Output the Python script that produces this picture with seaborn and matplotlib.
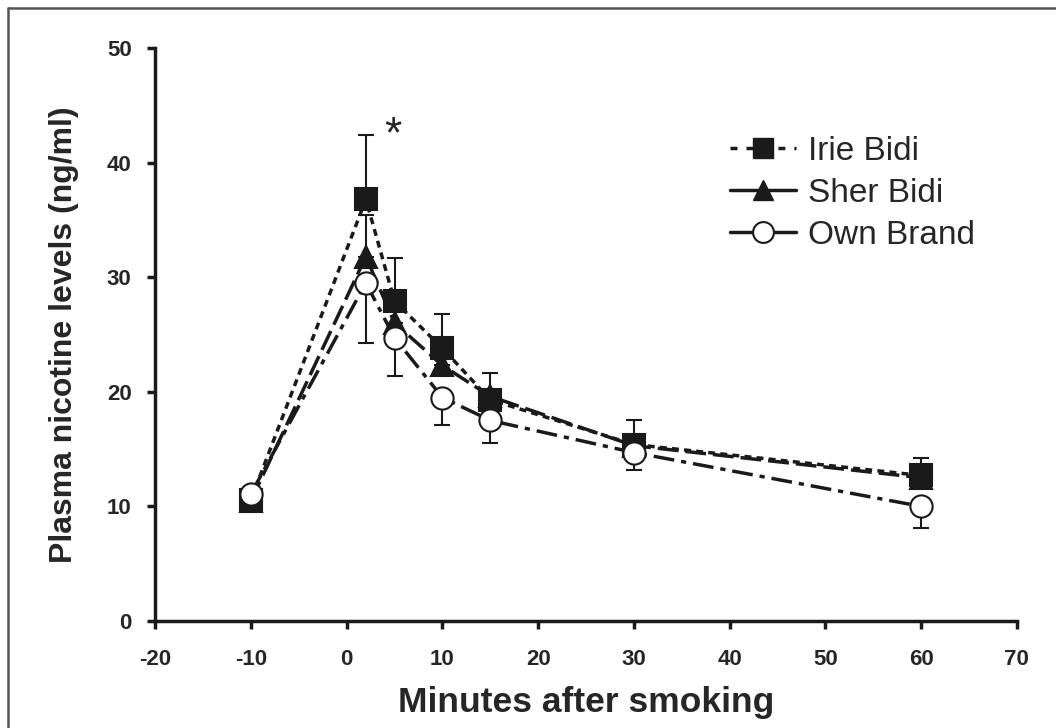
import numpy as np
import pandas as pd
import matplotlib
matplotlib.use("Agg")
import matplotlib.pyplot as plt
from matplotlib.lines import Line2D
import seaborn as sns

minutes = [-10, 2, 5, 10, 15, 30, 60]

irie = [10.6, 36.8, 27.9, 23.8, 19.3, 15.4, 12.7]
irie_err = [0.0, 5.6, 3.8, 3.0, 2.3, 2.1, 1.5]

sher = [10.5, 31.8, 26.0, 22.3, 19.6, 15.3, 12.5]
sher_err = [0.0, 3.6, 0.0, 0.0, 0.0, 0.0, 0.0]

own = [11.1, 29.5, 24.7, 19.5, 17.5, 14.7, 10.0]
own_err = [0.0, 5.2, 3.3, 2.4, 2.0, 1.5, 1.9]

series_names = ["Irie Bidi", "Sher Bidi", "Own Brand"]

sns.set_theme(style="ticks")
plt.rcParams['font.family'] = ['Liberation Sans', 'DejaVu Sans']
plt.rcParams['font.weight'] = 'bold'
plt.rcParams['axes.unicode_minus'] = False

ink = '#1a1a1a'

fig = plt.figure(figsize=(10.56, 7.28), dpi=100)
ax = fig.add_axes([0.147, 0.147, 0.816, 0.787])

# top and left edges of the cropped outer frame
W, H = 1056, 728
fig.add_artist(Line2D([8 / W, 1], [1 - 8 / H, 1 - 8 / H], transform=fig.transFigure,
                      color='#555555', linewidth=1.8))
fig.add_artist(Line2D([8 / W, 8 / W], [0, 1 - 8 / H], transform=fig.transFigure,
                      color='#555555', linewidth=1.8))

df = pd.DataFrame({
    'minutes': minutes * 3,
    'level': irie + sher + own,
    'brand': [n for n in series_names for _ in minutes],
})

# error bars: Irie up, Sher up, Own down
ax.errorbar(minutes, irie, yerr=[np.zeros(len(irie)), irie_err], fmt='none',
            ecolor=ink, elinewidth=1.5, capsize=6, capthick=1.5, zorder=2)
ax.errorbar(minutes, sher, yerr=[np.zeros(len(sher)), sher_err], fmt='none',
            ecolor=ink, elinewidth=1.5, capsize=6, capthick=1.5, zorder=2)
ax.errorbar(minutes, own, yerr=[own_err, np.zeros(len(own))], fmt='none',
            ecolor=ink, elinewidth=1.5, capsize=6, capthick=1.5, zorder=2)

sns.lineplot(
    data=df, x='minutes', y='level', style='brand', hue='brand',
    palette=[ink] * 3,
    markers={'Irie Bidi': 's', 'Sher Bidi': '^', 'Own Brand': 'o'},
    dashes={'Irie Bidi': (2, 1.5), 'Sher Bidi': (6, 2), 'Own Brand': (6, 2, 1.5, 2)},
    markersize=16, linewidth=2.5, ax=ax, legend=False, zorder=3,
)

# fill colours of markers
lines = ax.get_lines()[-3:]
for ln, fc in zip(lines, [ink, ink, 'white']):
    ln.set_markerfacecolor(fc)
    ln.set_markeredgecolor(ink)
    ln.set_markeredgewidth(1.5)

handles = [
    Line2D([], [], color=ink, linestyle=(0, (2.0, 2.6)), linewidth=2.5, marker='s',
           markersize=15, markerfacecolor=ink),
    Line2D([], [], color=ink, linestyle='-', linewidth=2.5, marker='^',
           markersize=15, markerfacecolor=ink),
    Line2D([], [], color=ink, linestyle='-', linewidth=2.5, marker='o',
           markersize=15, markerfacecolor='white', markeredgewidth=1.5),
]
leg = ax.legend(handles, series_names, loc='upper left', bbox_to_anchor=(0.632, 0.899),
                frameon=False, handlelength=2.0, handletextpad=0.36, labelspacing=0.33,
                prop={'size': 24, 'weight': 'normal'})

ax.text(4.8, 42.3, '*', fontsize=32, ha='center', va='center', fontweight='normal')

ax.set_xlim(-20, 70)
ax.set_ylim(0, 50)
ax.set_xticks(range(-20, 71, 10))
ax.set_yticks(range(0, 51, 10))
ax.tick_params(axis='both', labelsize=16, width=2.5, length=6, direction='out', color=ink)
ax.tick_params(axis='x', pad=14)
ax.tick_params(axis='y', pad=11)
for lab in ax.get_xticklabels() + ax.get_yticklabels():
    lab.set_fontweight('bold')
ax.set_xlabel('Minutes after smoking', fontsize=25.5, fontweight='bold', labelpad=12)
ax.set_ylabel('Plasma nicotine levels (ng/ml)', fontsize=23, fontweight='bold', labelpad=20)

sns.despine(ax=ax)
for s in ['left', 'bottom']:
    ax.spines[s].set_linewidth(2.5)
    ax.spines[s].set_color(ink)

fig.savefig('out.png', dpi=100)
